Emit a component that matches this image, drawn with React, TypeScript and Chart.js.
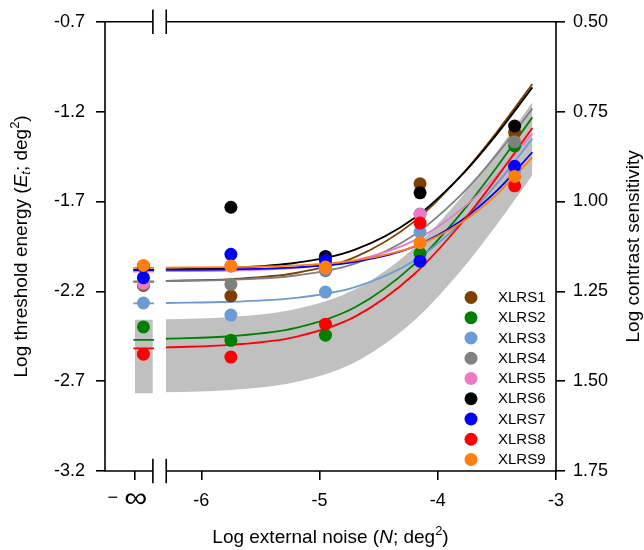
import React, { useEffect, useRef } from 'react';
import { Chart, registerables } from 'chart.js';

Chart.register(...registerables);

const FONT = '"Liberation Sans", Arial, Helvetica, sans-serif';

const SUBJECTS = ['XLRS1', 'XLRS2', 'XLRS3', 'XLRS4', 'XLRS5', 'XLRS6', 'XLRS7', 'XLRS8', 'XLRS9'];
const COLORS = ['#7f3f00', '#008000', '#6b9bd2', '#808080', '#e87ac8', '#000000', '#0000ff', '#ff0000', '#ff7f0e'];

// x positions of measured conditions (first one is the "-infinity" no-noise condition)
const NOISE_INF_POS = -6.49;
const NOISE_LEVELS = [-5.75, -4.95, -4.15, -3.35];

// measured thresholds: [-inf, -5.75, -4.95, -4.15, -3.35]
const XLRS1_PTS = [-2.167, -2.226, -2.075, -1.602, -1.315];
const XLRS2_PTS = [-2.398, -2.473, -2.444, -1.988, -1.39];
const XLRS3_PTS = [-2.265, -2.332, -2.204, -1.871, -1.53];
const XLRS4_PTS = [-2.16, -2.161, -2.085, -1.77, -1.368];
const XLRS5_PTS = [-2.154, -2.06, -2.07, -1.772, -1.51];
const XLRS6_PTS = [-2.06, -1.732, -2.006, -1.652, -1.28];
const XLRS7_PTS = [-2.124, -1.994, -2.028, -2.032, -1.504];
const XLRS8_PTS = [-2.55, -2.566, -2.383, -1.82, -1.613];
const XLRS9_PTS = [-2.056, -2.059, -2.065, -1.929, -1.561];
const POINTS = [XLRS1_PTS, XLRS2_PTS, XLRS3_PTS, XLRS4_PTS, XLRS5_PTS, XLRS6_PTS, XLRS7_PTS, XLRS8_PTS, XLRS9_PTS];

// fitted curves sampled at these x values
const CURVE_X = [-6.3, -5.75, -5.2, -4.7, -4.2, -3.8, -3.5, -3.2];
const XLRS1_FIT = [-2.142, -2.132, -2.098, -2.01, -1.812, -1.553, -1.313, -1.046];
const XLRS2_FIT = [-2.464, -2.45, -2.404, -2.289, -2.05, -1.763, -1.508, -1.232];
const XLRS3_FIT = [-2.265, -2.258, -2.237, -2.177, -2.03, -1.816, -1.601, -1.35];
const XLRS4_FIT = [-2.143, -2.136, -2.112, -2.046, -1.886, -1.661, -1.438, -1.183];
const XLRS5_FIT = [-2.088, -2.084, -2.069, -2.028, -1.918, -1.744, -1.554, -1.323];
const XLRS6_FIT = [-2.077, -2.069, -2.041, -1.968, -1.793, -1.555, -1.325, -1.065];
const XLRS7_FIT = [-2.081, -2.078, -2.067, -2.036, -1.951, -1.806, -1.64, -1.426];
const XLRS8_FIT = [-2.512, -2.498, -2.453, -2.341, -2.105, -1.821, -1.566, -1.291];
const XLRS9_FIT = [-2.068, -2.065, -2.056, -2.028, -1.951, -1.817, -1.66, -1.454];
const FITS = [XLRS1_FIT, XLRS2_FIT, XLRS3_FIT, XLRS4_FIT, XLRS5_FIT, XLRS6_FIT, XLRS7_FIT, XLRS8_FIT, XLRS9_FIT];

// fitted level at -infinity noise (short segments)
const INF_LEVEL = [-2.146, -2.47, -2.267, -2.146, -2.09, -2.08, -2.082, -2.517, -2.069];
const INF_SEG_X = [-6.575, -6.4];

// normal-range band
const BAND_TOP = [-2.356, -2.343, -2.299, -2.189, -1.957, -1.675, -1.422, -1.148];
const BAND_BOTTOM = [-2.762, -2.749, -2.705, -2.595, -2.363, -2.081, -1.828, -1.554];
const BAND_INF = [-2.358, -2.767];
const BAND_INF_X = [-6.563, -6.41];
const BAND_COLOR = '#c0c0c0';

// axes
const X_MIN = -6.815;
const X_MAX = -3.0;
const X_INF_TICK = -6.563;
const X_TICKS = [X_INF_TICK, -6, -5, -4, -3];
const BREAK_X = [-6.41, -6.297];
const Y_TICKS = [-3.2, -2.7, -2.2, -1.7, -1.2, -0.7];
const Y2_TICKS = [0.5, 0.75, 1.0, 1.25, 1.5, 1.75];

type Seg = { t: string; italic?: boolean; sub?: boolean; sup?: boolean };

const X_TITLE: Seg[] = [
  { t: 'Log external noise (' },
  { t: 'N', italic: true },
  { t: '; deg' },
  { t: '2', sup: true },
  { t: ')' },
];
const Y_TITLE: Seg[] = [
  { t: 'Log threshold energy (' },
  { t: 'E', italic: true },
  { t: 't', italic: true, sub: true },
  { t: '; deg' },
  { t: '2', sup: true },
  { t: ')' },
];
const Y2_TITLE: Seg[] = [{ t: 'Log contrast sensitivity' }];

function drawRich(ctx: CanvasRenderingContext2D, segs: Seg[], size: number) {
  let total = 0;
  const parts = segs.map((s) => {
    const sz = s.sub || s.sup ? size * 0.68 : size;
    const font = `${s.italic ? 'italic ' : ''}${sz}px ${FONT}`;
    ctx.font = font;
    const w = ctx.measureText(s.t).width;
    total += w;
    return { ...s, font, w, dy: s.sup ? -size * 0.36 : s.sub ? size * 0.25 : 0 };
  });
  let x = -total / 2;
  ctx.textAlign = 'left';
  ctx.textBaseline = 'middle';
  for (const p of parts) {
    ctx.font = p.font;
    ctx.fillText(p.t, x, p.dy);
    x += p.w;
  }
}

const decorPlugin = {
  id: 'decor',
  afterDraw(chart: any) {
    const { ctx, chartArea: ca, scales } = chart;
    const xs = scales.x;
    const bx1 = xs.getPixelForValue(BREAK_X[0]);
    const bx2 = xs.getPixelForValue(BREAK_X[1]);
    ctx.save();
    ctx.strokeStyle = '#000';
    ctx.lineWidth = 1.6;
    ctx.lineCap = 'square';
    ctx.beginPath();
    ctx.moveTo(ca.left, ca.top);
    ctx.lineTo(ca.left, ca.bottom);
    ctx.moveTo(ca.right, ca.top);
    ctx.lineTo(ca.right, ca.bottom);
    for (const y of [ca.top, ca.bottom]) {
      ctx.moveTo(ca.left, y);
      ctx.lineTo(bx1, y);
      ctx.moveTo(bx2, y);
      ctx.lineTo(ca.right, y);
      ctx.moveTo(bx1, y - 11.5);
      ctx.lineTo(bx1, y + 11.5);
      ctx.moveTo(bx2, y - 11.5);
      ctx.lineTo(bx2, y + 11.5);
    }
    ctx.stroke();

    ctx.fillStyle = '#000';
    // "- infinity" tick label
    const px0 = xs.getPixelForValue(X_INF_TICK);
    const ly = ca.bottom + 27.5;
    ctx.font = `18px ${FONT}`;
    ctx.textAlign = 'center';
    ctx.textBaseline = 'middle';
    ctx.fillText('\u2212', px0 - 22, ly);
    ctx.save();
    ctx.font = `28px ${FONT}`;
    const w = ctx.measureText('\u221E').width;
    ctx.translate(px0 + 1, ly + 1);
    ctx.scale(23 / w, 1);
    ctx.fillText('\u221E', 0, 0);
    ctx.restore();

    // axis titles
    const cy = (ca.top + ca.bottom) / 2;
    ctx.save();
    ctx.translate((ca.left + ca.right) / 2, 538);
    drawRich(ctx, X_TITLE, 19);
    ctx.restore();
    ctx.save();
    ctx.translate(22, cy);
    ctx.rotate(-Math.PI / 2);
    drawRich(ctx, Y_TITLE, 19);
    ctx.restore();
    ctx.save();
    ctx.translate(634, cy);
    ctx.rotate(-Math.PI / 2);
    drawRich(ctx, Y2_TITLE, 19);
    ctx.restore();

    // legend
    ctx.font = `15px ${FONT}`;
    ctx.textAlign = 'left';
    ctx.textBaseline = 'middle';
    SUBJECTS.forEach((name, i) => {
      const y = 297.5 + i * 20.25;
      ctx.fillStyle = COLORS[i];
      ctx.beginPath();
      ctx.arc(471, y, 6.5, 0, Math.PI * 2);
      ctx.fill();
      ctx.fillStyle = '#000';
      ctx.fillText(name, 498, y + 0.5);
    });
    ctx.restore();
  },
};

export default function App() {
  const ref = useRef<HTMLCanvasElement>(null);
  useEffect(() => {
    const canvas = ref.current;
    if (!canvas) return;
    const datasets: any[] = [];
    const bandBase = {
      borderWidth: 0,
      borderColor: 'rgba(0,0,0,0)',
      pointRadius: 0,
      backgroundColor: BAND_COLOR,
      order: 50,
    };
    datasets.push({ ...bandBase, data: BAND_INF_X.map((x) => ({ x, y: BAND_INF[0] })), fill: '+1' });
    datasets.push({ ...bandBase, data: BAND_INF_X.map((x) => ({ x, y: BAND_INF[1] })), fill: false });
    datasets.push({ ...bandBase, data: CURVE_X.map((x, i) => ({ x, y: BAND_TOP[i] })), fill: '+1', cubicInterpolationMode: 'monotone' });
    datasets.push({ ...bandBase, data: CURVE_X.map((x, i) => ({ x, y: BAND_BOTTOM[i] })), fill: false, cubicInterpolationMode: 'monotone' });

    SUBJECTS.forEach((_, i) => {
      datasets.push({
        data: INF_SEG_X.map((x) => ({ x, y: INF_LEVEL[i] })),
        borderColor: COLORS[i],
        borderWidth: 1.8,
        pointRadius: 0,
        fill: false,
        order: -i,
      });
      datasets.push({
        data: CURVE_X.map((x, j) => ({ x, y: FITS[i][j] })),
        borderColor: COLORS[i],
        borderWidth: 1.8,
        pointRadius: 0,
        fill: false,
        cubicInterpolationMode: 'monotone',
        order: -i,
      });
    });
    SUBJECTS.forEach((_, i) => {
      const xs = [NOISE_INF_POS, ...NOISE_LEVELS];
      datasets.push({
        data: xs.map((x, j) => ({ x, y: POINTS[i][j] })),
        showLine: false,
        pointRadius: 6.5,
        pointHoverRadius: 6.5,
        pointBackgroundColor: COLORS[i],
        pointBorderWidth: 0,
        borderColor: COLORS[i],
        order: -100 - i,
      });
    });

    const tickFont = { family: FONT, size: 18 };
    const gridOpts = { drawOnChartArea: false, drawTicks: true, tickLength: 9, color: '#000', lineWidth: 1.6 };

    const chart = new Chart(canvas, {
      type: 'line',
      data: { datasets },
      options: {
        animation: false,
        responsive: false,
        events: [],
        layout: { padding: { top: 21, left: 0, right: 0, bottom: 0 } },
        plugins: { legend: { display: false }, tooltip: { enabled: false } },
        scales: {
          x: {
            type: 'linear',
            min: X_MIN,
            max: X_MAX,
            border: { display: false },
            grid: gridOpts,
            ticks: {
              font: tickFont,
              color: '#000',
              padding: 10,
              maxRotation: 0,
              autoSkip: false,
              callback: (v: any) => (v < -6.3 ? '' : String(v)),
            },
            afterBuildTicks: (s: any) => {
              s.ticks = X_TICKS.map((v) => ({ value: v }));
            },
            afterFit: (s: any) => {
              s.height = 79;
            },
          },
          y: {
            type: 'linear',
            position: 'left',
            min: Y_TICKS[0],
            max: Y_TICKS[Y_TICKS.length - 1],
            border: { display: false },
            grid: gridOpts,
            ticks: {
              font: tickFont,
              color: '#000',
              padding: 11,
              callback: (v: any) => Number(v).toFixed(1),
            },
            afterBuildTicks: (s: any) => {
              s.ticks = Y_TICKS.map((v) => ({ value: v }));
            },
            afterFit: (s: any) => {
              s.width = 105;
            },
          },
          y2: {
            type: 'linear',
            position: 'right',
            min: Y2_TICKS[0],
            max: Y2_TICKS[Y2_TICKS.length - 1],
            reverse: true,
            border: { display: false },
            grid: gridOpts,
            ticks: {
              font: tickFont,
              color: '#000',
              padding: 8,
              callback: (v: any) => Number(v).toFixed(2),
            },
            afterBuildTicks: (s: any) => {
              s.ticks = Y2_TICKS.map((v) => ({ value: v }));
            },
            afterFit: (s: any) => {
              s.width = 88;
            },
          },
        },
      } as any,
      plugins: [decorPlugin],
    });
    return () => chart.destroy();
  }, []);

  return (
    <div style={{ position: 'absolute', left: 0, top: 0, width: 644, height: 550, background: '#fff' }}>
      <canvas ref={ref} width={644} height={550} style={{ display: 'block', width: 644, height: 550 }} />
    </div>
  );
}
